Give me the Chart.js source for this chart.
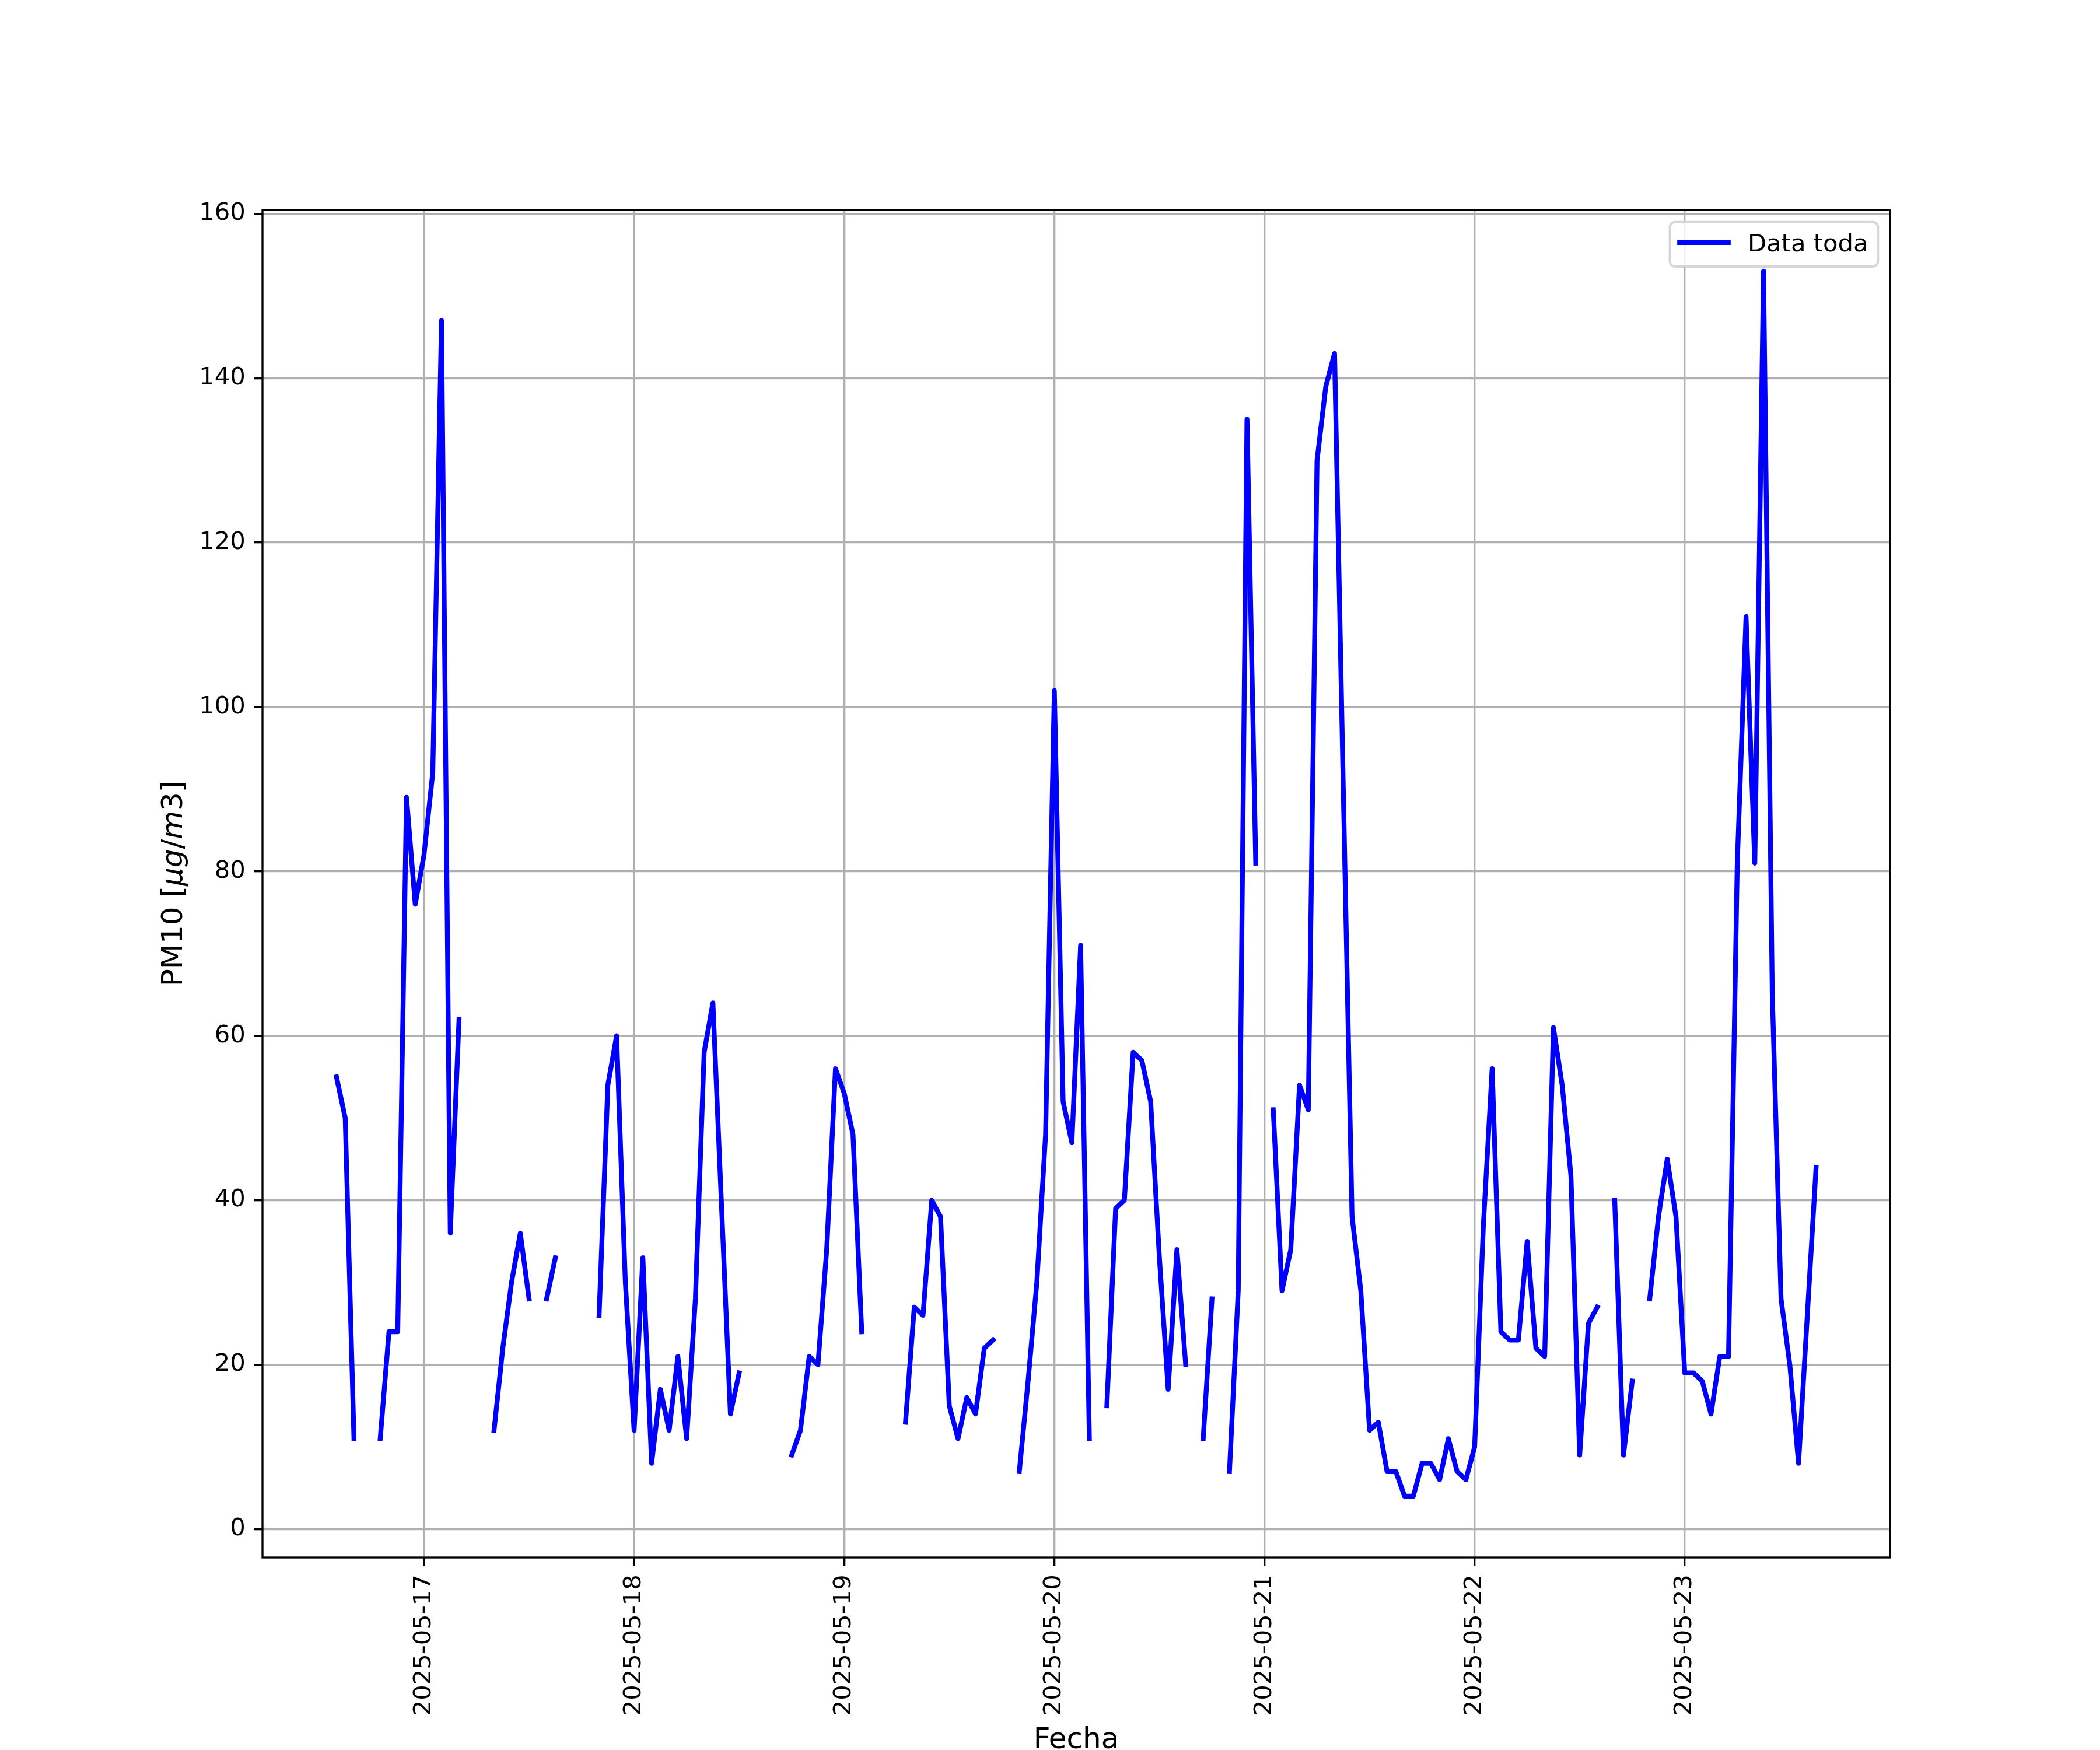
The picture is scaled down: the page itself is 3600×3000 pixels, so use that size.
<!DOCTYPE html>
<html>
<head>
<meta charset="utf-8">
<script src="https://cdn.jsdelivr.net/npm/chart.js@4.4.1/dist/chart.umd.min.js"></script>
<style>
html, body { margin: 0; padding: 0; background: #ffffff; }
canvas { display: block; }
</style>
</head>
<body>
<canvas id="c" width="3600" height="3000"></canvas>
<script>
// ---- data (hourly PM10, hours counted from 2025-05-16 00:00) ----
const startHour = 14; // first sample: 2025-05-16 14:00
const pm10_0516 = [55, 50, 11, null, null, 11, 24, 24, 89, 76];                       // 14:00-23:00
const pm10_0517 = [82, 92, 147, 36, 62, null, null, null, 12, 22, 30, 36, 28, null, 28, 33, null, null, null, null, 26, 54, 60, 30];
const pm10_0518 = [12, 33, 8, 17, 12, 21, 11, 28, 58, 64, 39, 14, 19, null, null, null, null, null, 9, 12, 21, 20, 34, 56];
const pm10_0519 = [53, 48, 24, null, null, null, null, 13, 27, 26, 40, 38, 15, 11, 16, 14, 22, 23, null, null, 7, 18, 30, 48];
const pm10_0520 = [102, 52, 47, 71, 11, null, 15, 39, 40, 58, 57, 52, 33, 17, 34, 20, null, 11, 28, null, 7, 29, 135, 81];
const pm10_0521 = [null, 51, 29, 34, 54, 51, 130, 139, 143, 90, 38, 29, 12, 13, 7, 7, 4, 4, 8, 8, 6, 11, 7, 6];
const pm10_0522 = [10, 37, 56, 24, 23, 23, 35, 22, 21, 61, 54, 43, 9, 25, 27, null, 40, 9, 18, null, 28, 38, 45, 38];
const pm10_0523 = [19, 19, 18, 14, 21, 21, 81, 111, 81, 153, 65, 28, 20, 8, 26, 44];  // 00:00-15:00

const tickHours  = [24, 48, 72, 96, 120, 144, 168];
const tickLabels = ['2025-05-17', '2025-05-18', '2025-05-19', '2025-05-20', '2025-05-21', '2025-05-22', '2025-05-23'];
const yTicks     = [0, 20, 40, 60, 80, 100, 120, 140, 160];
const seriesLabel = 'Data toda';
const xTitle = 'Fecha';

// ---- build ----
const values = [].concat(pm10_0516, pm10_0517, pm10_0518, pm10_0519, pm10_0520, pm10_0521, pm10_0522, pm10_0523);
const points = values.map((v, i) => ({ x: startHour + i, y: v }));
const xFirst = startHour, xLast = startHour + values.length - 1;
const xPad = (xLast - xFirst) * 0.05;
const nums = values.filter(v => v !== null);
const yLo = Math.min(...nums), yHi = Math.max(...nums);
const yPad = (yHi - yLo) * 0.05;

const PT = 300 / 72;
const FONT = "'DejaVu Sans'";

const framePlugin = {
  id: 'frame',
  afterDatasetsDraw(chart) {
    const { ctx, chartArea: a } = chart;
    ctx.save();
    ctx.strokeStyle = '#000000';
    ctx.lineWidth = 0.8 * PT;
    ctx.lineJoin = 'miter';
    ctx.strokeRect(a.left, a.top, a.right - a.left, a.bottom - a.top);
    ctx.restore();
  },
  afterDraw(chart) {
    const { ctx, chartArea: a } = chart;
    ctx.save();
    // x title
    ctx.fillStyle = '#000';
    ctx.font = `${12 * PT}px ${FONT}`;
    ctx.textAlign = 'center';
    ctx.textBaseline = 'alphabetic';
    ctx.fillText(xTitle, (a.left + a.right) / 2, 2997);

    // y title  PM10 [μg/m3]  (mathtext part italic)
    const parts = [
      ['PM10 [', false], ['\u03bcg', true], ['/', false], ['m', true], ['3', false], [']', false]
    ];
    const fsz = 12 * PT;
    let total = 0;
    const widths = parts.map(([t, it]) => {
      ctx.font = `${it ? 'italic ' : ''}${fsz}px ${FONT}`;
      const w = ctx.measureText(t).width; total += w; return w;
    });
    ctx.translate(294 + 0.36 * fsz, (a.top + a.bottom) / 2);
    ctx.rotate(-Math.PI / 2);
    ctx.textAlign = 'left';
    ctx.textBaseline = 'alphabetic';
    let xp = -total / 2;
    parts.forEach(([t, it], i) => {
      ctx.font = `${it ? 'italic ' : ''}${fsz}px ${FONT}`;
      ctx.fillText(t, xp, 0);
      xp += widths[i];
    });
    ctx.restore();

    // legend
    ctx.save();
    const fs = 10 * PT;
    ctx.font = `${fs}px ${FONT}`;
    const tw = ctx.measureText(seriesLabel).width;
    const w = 0.4 * fs + 2 * fs + 0.8 * fs + tw + 0.4 * fs;
    const h = 76;
    const right = a.right - 0.5 * fs;
    const top = a.top + 0.5 * fs;
    const left = right - w;
    const r = 0.2 * fs;
    ctx.beginPath();
    ctx.moveTo(left + r, top);
    ctx.lineTo(right - r, top);
    ctx.arcTo(right, top, right, top + r, r);
    ctx.lineTo(right, top + h - r);
    ctx.arcTo(right, top + h, right - r, top + h, r);
    ctx.lineTo(left + r, top + h);
    ctx.arcTo(left, top + h, left, top + h - r, r);
    ctx.lineTo(left, top + r);
    ctx.arcTo(left, top, left + r, top, r);
    ctx.closePath();
    ctx.fillStyle = 'rgba(255,255,255,0.8)';
    ctx.fill();
    ctx.strokeStyle = 'rgba(204,204,204,0.8)';
    ctx.lineWidth = 1.0 * PT;
    ctx.stroke();
    // handle
    const hx0 = left + 0.4 * fs, hx1 = hx0 + 2 * fs, hy = top + 35;
    ctx.beginPath();
    ctx.moveTo(hx0, hy); ctx.lineTo(hx1, hy);
    ctx.strokeStyle = '#0000ff';
    ctx.lineWidth = 2 * PT;
    ctx.lineCap = 'square';
    ctx.stroke();
    // text
    ctx.fillStyle = '#000';
    ctx.textAlign = 'left';
    ctx.textBaseline = 'alphabetic';
    ctx.fillText(seriesLabel, hx1 + 0.8 * fs, top + 50);
    ctx.restore();
  }
};

new Chart(document.getElementById('c').getContext('2d'), {
  type: 'line',
  data: {
    datasets: [{
      label: seriesLabel,
      data: points,
      borderColor: '#0000ff',
      backgroundColor: '#0000ff',
      borderWidth: 2 * PT,
      pointRadius: 0,
      pointHoverRadius: 0,
      borderJoinStyle: 'round',
      borderCapStyle: 'square',
      spanGaps: false,
      tension: 0,
      fill: false
    }]
  },
  options: {
    responsive: false,
    animation: false,
    devicePixelRatio: 1,
    events: [],
    layout: { padding: { left: 0, top: 360, right: 360, bottom: 0 } },
    plugins: { legend: { display: false }, tooltip: { enabled: false }, title: { display: false } },
    scales: {
      x: {
        type: 'linear',
        min: xFirst - xPad,
        max: xLast + xPad,
        afterBuildTicks: s => { s.ticks = tickHours.map(v => ({ value: v })); },
        afterFit: s => { s.height = 330; },
        ticks: {
          autoSkip: false,
          minRotation: 90,
          maxRotation: 90,
          padding: 3.5 * PT,
          color: '#000',
          font: { family: 'DejaVu Sans', size: 10 * PT },
          callback: (v) => { const i = tickHours.indexOf(v); return i >= 0 ? tickLabels[i] : ''; }
        },
        grid: { color: '#b0b0b0', lineWidth: 0.8 * PT, drawTicks: true, tickLength: 3.5 * PT, tickColor: '#000', tickWidth: 0.8 * PT },
        border: { display: false }
      },
      y: {
        type: 'linear',
        min: yLo - yPad,
        max: yHi + yPad,
        afterBuildTicks: s => { s.ticks = yTicks.map(v => ({ value: v })); },
        afterFit: s => { s.width = 450; },
        ticks: {
          padding: 3.5 * PT,
          color: '#000',
          font: { family: 'DejaVu Sans', size: 10 * PT },
          callback: v => String(v)
        },
        grid: { color: '#b0b0b0', lineWidth: 0.8 * PT, drawTicks: true, tickLength: 3.5 * PT, tickColor: '#000', tickWidth: 0.8 * PT },
        border: { display: false }
      }
    }
  },
  plugins: [framePlugin]
});
</script>
</body>
</html>
